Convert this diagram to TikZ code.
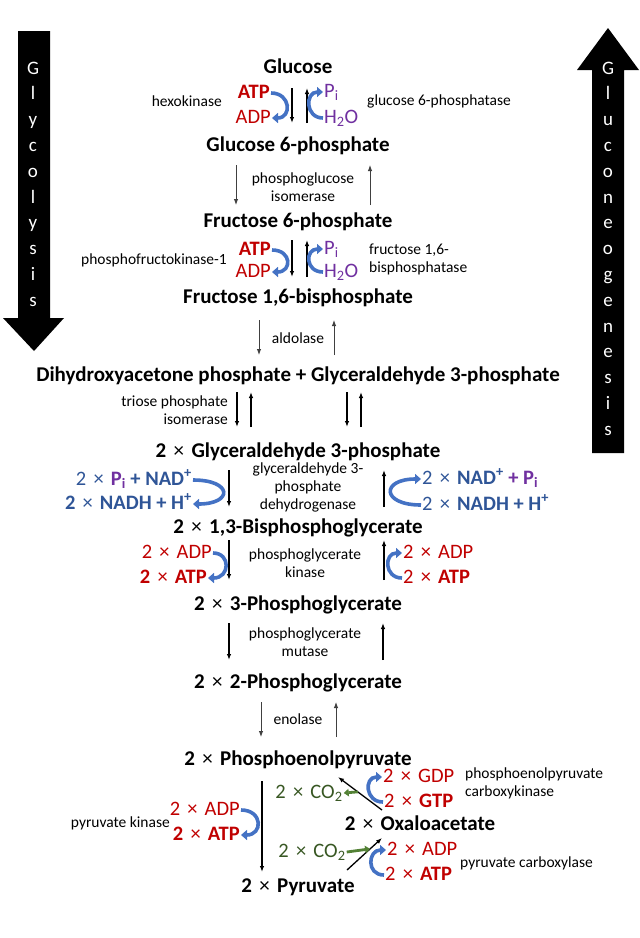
\documentclass[tikz,border=0pt]{standalone}
\usepackage{fontspec}
\setmainfont{Carlito}
\usetikzlibrary{arrows.meta,calc}
\definecolor{GRed}{HTML}{C00000}
\definecolor{GBlue}{HTML}{2F5597}
\definecolor{GPurple}{HTML}{7030A0}
\definecolor{GGreen}{HTML}{385723}
\definecolor{GArrow}{HTML}{538135}
\definecolor{CofBlue}{HTML}{4472C4}
\definecolor{DarkGray}{HTML}{404040}
\newcommand{\tms}{\hspace{0.35em}{\mdseries ×}\hspace{0.35em}}
\tikzset{
    cmpd/.style = {font=\fontsize{21}{23}\selectfont\bfseries, inner sep=0pt,
        text height=14pt, text depth=4pt},
    enz/.style = {font=\fontsize{15.5}{18}\selectfont, inner sep=1pt},
    cof/.style = {font=\fontsize{20.5}{22}\selectfont, inner sep=1pt,
        text height=14pt, text depth=4pt},
    rxn/.style = {draw, line width=1.3pt, -{Latex[length=6pt,width=4.5pt]}},
    rxngray/.style = {rxn, DarkGray, line width=1pt},
    cofarc/.style = {draw=CofBlue, line width=3.6pt, -{Triangle[length=6pt,width=10pt]}},
    carb/.style = {draw=GArrow, line width=2.8pt, -{Triangle[length=5pt,width=7.5pt]}},
    letter/.style = {text=white, font=\fontsize{19}{19}\selectfont, anchor=base, inner sep=0pt}
}
\begin{document}
\begin{tikzpicture}[x=1pt, y=-1pt]
\useasboundingbox (0,0) rectangle (640,938);
% direction arrows
\fill (18,31) -- (50,31) -- (50,318) -- (64,318) -- (34,351) -- (3,318) -- (18,318) -- cycle;
\fill (592,453) -- (624,453) -- (624,70) -- (639,70) -- (608,28) -- (577,70) -- (592,70) -- cycle;
\foreach \l [count=\i from 0] in {G,l,y,c,o,l,y,s,i,s}
    \node[letter] (gly\i) at (33,74+25.8*\i) {\l};
\foreach \l [count=\i from 0] in {G,l,u,c,o,n,e,o,g,e,n,e,s,i,s}
    \node[letter] (gng\i) at (608,74+25.8*\i) {\l};

% compounds
\node[cmpd] (glc) at (298,68) {Glucose};
\node[cmpd] (g6p) at (298,146) {Glucose 6-phosphate};
\node[cmpd] (f6p) at (298,222) {Fructose 6-phosphate};
\node[cmpd] (fbp) at (298,298) {Fructose 1,6-bisphosphate};
\node[cmpd] (dhap) at (298,376) {Dihydroxyacetone phosphate + Glyceraldehyde 3-phosphate};
\node[cmpd] (gap) at (298,452) {2\tms Glyceraldehyde 3-phosphate};
\node[cmpd] (bpg) at (298,528) {2\tms 1,3-Bisphosphoglycerate};
\node[cmpd] (pga3) at (298,605) {2\tms 3-Phosphoglycerate};
\node[cmpd] (pga2) at (298,683) {2\tms 2-Phosphoglycerate};
\node[cmpd] (pep) at (298,760) {2\tms Phosphoenolpyruvate};
\node[cmpd] (oaa) at (420,825) {2\tms Oxaloacetate};
\node[cmpd] (pyr) at (298,887) {2\tms Pyruvate};

% hexokinase / glucose 6-phosphatase
\node[enz, anchor=east] (hk) at (223,101) {hexokinase};
\node[cof, anchor=east, text=GRed] (atp1) at (271,93) {\textbf{ATP}};
\node[cof, anchor=east, text=GRed] (adp1) at (272,118) {ADP};
\node[cof, anchor=west, text=GPurple] (pi1) at (323,92) {P\textsubscript{i}};
\node[cof, anchor=west, text=GPurple] (wat1) at (323,118) {H\textsubscript{2}O};
\node[enz, anchor=west] (g6pase) at (366,101) {glucose 6-phosphatase};
\draw[rxn] ([shift={(-6,20)}]glc.center) -- ([shift={(-6,-23)}]g6p.center);
\draw[rxn] ([shift={(9,-23)}]g6p.center) -- ([shift={(9,20)}]glc.center);
\draw[cofarc] (atp1.east) .. controls +(20,0) and +(20,0) .. (adp1.east);
\draw[cofarc] (wat1.west) .. controls +(-18,0) and +(-18,0) .. (pi1.west);

% phosphoglucose isomerase
\node[enz, align=center] (pgi) at (303,187) {phosphoglucose\\isomerase};
\draw[rxngray] ([shift={(-62,19)}]g6p.center) -- ([shift={(-62,-17)}]f6p.center);
\draw[rxngray] ([shift={(72,-17)}]f6p.center) -- ([shift={(72,19)}]g6p.center);

% phosphofructokinase-1 / fructose 1,6-bisphosphatase
\node[enz, anchor=east] (pfk) at (228,260) {phosphofructokinase-1};
\node[cof, anchor=east, text=GRed] (atp2) at (272,250) {\textbf{ATP}};
\node[cof, anchor=east, text=GRed] (adp2) at (272,272) {ADP};
\node[cof, anchor=west, text=GPurple] (pi2) at (323,249) {P\textsubscript{i}};
\node[cof, anchor=west, text=GPurple] (wat2) at (323,272) {H\textsubscript{2}O};
\node[enz, anchor=west, align=left] (fbpase) at (368,259) {fructose 1,6-\\bisphosphatase};
\draw[rxn] ([shift={(-6,18)}]f6p.center) -- ([shift={(-6,-21)}]fbp.center);
\draw[rxn] ([shift={(9,-21)}]fbp.center) -- ([shift={(9,18)}]f6p.center);
\draw[cofarc] (atp2.east) .. controls +(20,0) and +(20,0) .. (adp2.east);
\draw[cofarc] (wat2.west) .. controls +(-18,0) and +(-18,0) .. (pi2.west);

% aldolase
\node[enz] (ald) at (298,338) {aldolase};
\draw[rxngray] ([shift={(-39,22)}]fbp.center) -- ([shift={(-39,-21)}]dhap.center);
\draw[rxngray] ([shift={(36,-21)}]dhap.center) -- ([shift={(36,22)}]fbp.center);

% triose phosphate isomerase
\node[enz, anchor=east, align=right] (tpi) at (229,410) {triose phosphate\\isomerase};
\foreach \dx in {-61,49}{
    \draw[rxn] ([shift={(\dx,16)}]dhap.center) -- ([shift={(\dx,-25)}]gap.center);
    \draw[rxn] ([shift={(\dx+14,-25)}]gap.center) -- ([shift={(\dx+14,16)}]dhap.center);
}

% glyceraldehyde 3-phosphate dehydrogenase
\node[cof, anchor=east, text=GBlue] (nad1) at (193,480) {2\tms\textcolor{GPurple}{\textbf{P\textsubscript{i}}} \textbf{+ NAD\textsuperscript{+}}};
\node[cof, anchor=east, text=GBlue] (nadh1) at (193,504) {\textbf{2}\tms\textbf{NADH + H\textsuperscript{+}}};
\node[enz, align=center] (gapdh) at (308,487) {glyceraldehyde 3-\\phosphate\\dehydrogenase};
\node[cof, anchor=west, text=GBlue] (nad2) at (421,479) {2\tms\textbf{NAD\textsuperscript{+}} \textcolor{GPurple}{\textbf{+ P\textsubscript{i}}}};
\node[cof, anchor=west, text=GBlue] (nadh2) at (421,505) {2\tms\textbf{NADH + H\textsuperscript{+}}};
\draw[rxn] ([shift={(-69,18)}]gap.center) -- ([shift={(-69,-21)}]bpg.center);
\draw[rxn] ([shift={(86,-21)}]bpg.center) -- ([shift={(86,18)}]gap.center);
\draw[cofarc] (nad1.east) .. controls +(40,0) and +(40,0) .. (nadh1.east);
\draw[cofarc] (nadh2.west) .. controls +(-40,0) and +(-40,0) .. (nad2.west);

% phosphoglycerate kinase
\node[cof, anchor=east, text=GRed] (adp3) at (213,553) {2\tms ADP};
\node[cof, anchor=east, text=GRed] (atp3) at (208,578) {\textbf{2}\tms\textbf{ATP}};
\node[enz, align=center] (pgk) at (305,563) {phosphoglycerate\\kinase};
\node[cof, anchor=west, text=GRed] (adp4) at (402,553) {2\tms ADP};
\node[cof, anchor=west, text=GRed] (atp4) at (402,578) {2\tms\textbf{ATP}};
\draw[rxn] ([shift={(-69,12)}]bpg.center) -- ([shift={(-69,-25)}]pga3.center);
\draw[rxn] ([shift={(86,-25)}]pga3.center) -- ([shift={(86,12)}]bpg.center);
\draw[cofarc] (adp3.east) .. controls +(18,0) and +(22,0) .. (atp3.east);
\draw[cofarc] (atp4.west) .. controls +(-18,0) and +(-18,0) .. (adp4.west);

% phosphoglycerate mutase
\node[enz, align=center] (pgm) at (305,642) {phosphoglycerate\\mutase};
\draw[rxn] ([shift={(-69,18)}]pga3.center) -- ([shift={(-69,-23)}]pga2.center);
\draw[rxn] ([shift={(85,-23)}]pga2.center) -- ([shift={(85,18)}]pga3.center);

% enolase
\node[enz] (eno) at (298,719) {enolase};
\draw[rxngray] ([shift={(-37,19)}]pga2.center) -- ([shift={(-37,-23)}]pep.center);
\draw[rxngray] ([shift={(38,-23)}]pep.center) -- ([shift={(38,19)}]pga2.center);

% pyruvate kinase
\node[enz, anchor=east] (pk) at (171,823) {pyruvate kinase};
\node[cof, anchor=east, text=GRed] (adp5) at (241,810) {2\tms ADP};
\node[cof, anchor=east, text=GRed] (atp5) at (241,835) {\textbf{2}\tms\textbf{ATP}};
\draw[rxn, line width=2pt] ([shift={(-36,21)}]pep.center) -- ([shift={(-36,-15)}]pyr.center);
\draw[cofarc] (adp5.east) .. controls +(22,0) and +(22,0) .. (atp5.east);

% phosphoenolpyruvate carboxykinase
\node[cof, text=GGreen] (co2a) at (309,793) {2\tms CO\textsubscript{2}};
\node[cof, anchor=west, text=GRed] (gdp) at (382,777) {2\tms GDP};
\node[cof, anchor=west, text=GRed] (gtp) at (383,802) {2\tms\textbf{GTP}};
\node[enz, anchor=west, align=left] (pepck) at (464,783) {phosphoenolpyruvate\\carboxykinase};
\draw[rxn] ([shift={(-38,-15)}]oaa.center) -- coordinate[pos=0.55] (pk1) ([shift={(40,17)}]pep.center);
\draw[carb] (pk1) -- (co2a.east);
\draw[cofarc] (gtp.west) .. controls +(-18,0) and +(-18,0) .. (gdp.west);

% pyruvate carboxylase
\node[cof, text=GGreen] (co2b) at (312,852) {2\tms CO\textsubscript{2}};
\node[cof, anchor=west, text=GRed] (adp6) at (386,850) {2\tms ADP};
\node[cof, anchor=west, text=GRed] (atp6) at (384,875) {2\tms\textbf{ATP}};
\node[enz, anchor=west] (pc) at (459,863) {pyruvate carboxylase};
\draw[rxn] ([shift={(49,-17)}]pyr.center) -- coordinate[pos=0.66] (pc1) ([shift={(-38,13)}]oaa.center);
\draw[carb] (co2b.east) -- (pc1);
\draw[cofarc] (atp6.west) .. controls +(-18,0) and +(-18,0) .. (adp6.west);
\end{tikzpicture}
\end{document}
